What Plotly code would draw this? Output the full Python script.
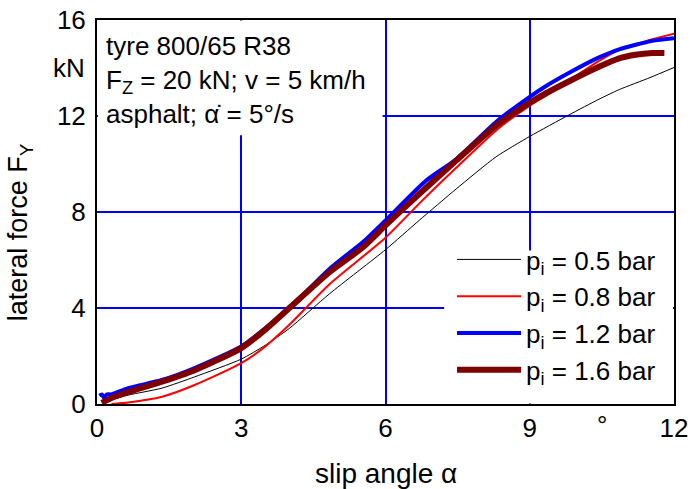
import plotly.graph_objects as go

# slip angle (deg) / lateral force (kN)
a_05 = [0.1, 0.65, 1.35, 2.03, 3.0, 3.5, 4.0, 4.84, 6.0, 6.7, 7.47, 8.3, 9.0, 9.82, 10.44, 10.86, 11.5, 12.0]
f_05 = [0.05, 0.37, 0.66, 1.13, 1.87, 2.45, 3.15, 4.6, 6.43, 7.65, 8.96, 10.3, 11.15, 12.05, 12.7, 13.1, 13.6, 14.02]

a_08 = [0.3, 0.65, 1.35, 2.03, 3.0, 3.5, 4.0, 4.84, 6.0, 6.7, 7.47, 8.3, 9.0, 9.34, 10.44, 10.86, 11.55, 12.0]
f_08 = [0.0, 0.06, 0.3, 0.79, 1.70, 2.4, 3.3, 5.0, 6.93, 8.35, 9.84, 11.4, 12.43, 12.85, 14.3, 14.75, 15.2, 15.43]

a_12 = [0.05, 0.1, 0.15, 0.2, 0.3, 0.65, 1.35, 2.03, 3.0, 3.5, 4.0, 4.84, 5.53, 6.0, 6.84, 7.47, 8.3, 9.0, 9.34, 9.82, 10.44, 10.86, 11.55, 12.0]
f_12 = [0.35, 0.4, 0.25, 0.4, 0.4, 0.66, 1.0, 1.5, 2.4, 3.15, 4.0, 5.64, 6.75, 7.65, 9.3, 10.2, 11.75, 12.8, 13.25, 13.8, 14.44, 14.78, 15.13, 15.24]

a_16 = [0.1, 0.3, 0.65, 1.35, 2.03, 3.0, 3.5, 4.0, 4.84, 5.53, 6.0, 6.7, 7.47, 8.3, 9.0, 9.34, 9.82, 10.44, 10.86, 11.2, 11.55, 11.8]
f_16 = [0.05, 0.25, 0.5, 0.93, 1.41, 2.33, 3.1, 4.0, 5.5, 6.53, 7.44, 8.75, 10.14, 11.6, 12.55, 12.95, 13.45, 14.05, 14.4, 14.55, 14.62, 14.62]

series_names = ["p<sub>i</sub> = 0.5 bar", "p<sub>i</sub> = 0.8 bar", "p<sub>i</sub> = 1.2 bar", "p<sub>i</sub> = 1.6 bar"]
x_ticks = [0, 3, 6, 9, 12]
y_ticks = [0, 4, 8, 12, 16]
info_lines = ["tyre 800/65 R38", "F<sub>Z</sub> = 20 kN; v = 5 km/h", "asphalt; α\u0307 = 5°/s"]
x_title = "slip angle α"
y_title = "lateral force F<sub>Y</sub>"

FONT = "Liberation Sans, Arial, sans-serif"
FS = 26
GRID = "#0000ff"

fig = go.Figure()
styles = [("black", 1), ("#ff0000", 2), ("#0000ff", 4), ("#7f0000", 6)]
for (xs, ys), name, (col, w) in zip([(a_05, f_05), (a_08, f_08), (a_12, f_12), (a_16, f_16)], series_names, styles):
    fig.add_trace(go.Scatter(x=xs, y=ys, mode="lines", name=name,
                             line=dict(color=col, width=w, shape="spline", smoothing=0.6)))

fig.update_layout(
    width=693, height=489,
    margin=dict(l=97, r=19, t=20, b=85),
    paper_bgcolor="white", plot_bgcolor="white",
    font=dict(family=FONT, size=FS, color="black"),
    showlegend=True,
    hovermode=False,
    legend=dict(x=0.9775, y=0.026, xanchor="right", yanchor="bottom", bgcolor="rgba(0,0,0,0)",
                borderwidth=0, font=dict(size=FS), tracegroupgap=0,
                itemwidth=64),
    xaxis=dict(range=[0, 12], tickvals=x_ticks, showgrid=True, gridcolor=GRID, gridwidth=2,
               zeroline=False, showline=True, linecolor="black", linewidth=2, mirror=True,
               ticks="", automargin=False, ticklabelstandoff=0),
    yaxis=dict(range=[0, 16], tickvals=y_ticks, showgrid=True, gridcolor=GRID, gridwidth=2,
               zeroline=False, showline=True, linecolor="black", linewidth=2, mirror=True,
               ticks="", automargin=False, ticklabelstandoff=4),
)

# white boxes hiding the grid behind the text box and the legend (axis-referenced, between grid and traces)
fig.add_shape(type="rect", xref="x", yref="y", x0=0.02, x1=5.94, y0=11.2, y1=15.98,
              fillcolor="white", line_width=0, layer="between")
fig.add_shape(type="rect", xref="x", yref="y", x0=7.22, x1=11.98, y0=0.02, y1=6.4,
              fillcolor="white", line_width=0, layer="between")

fig.add_annotation(text="<br>".join(info_lines), xref="paper", yref="paper", x=0.012, y=0.977,
                   xanchor="left", yanchor="top", align="left", showarrow=False,
                   font=dict(size=FS))
# axis titles
fig.add_annotation(text=x_title, xref="paper", yref="paper", x=0.5, y=0, yshift=-52,
                   xanchor="center", yanchor="top", showarrow=False, font=dict(size=28))
fig.add_annotation(text=y_title, xref="paper", yref="paper", x=-0.133, y=0.448,
                   xanchor="center", yanchor="middle", textangle=-90, showarrow=False,
                   font=dict(size=27))
# unit labels
fig.add_annotation(text="°", x=10.5, xref="x", yref="paper", y=0, yshift=-4,
                   yanchor="top", showarrow=False, font=dict(size=FS))
fig.add_annotation(text="kN", y=14, yref="y", xref="paper", x=0, xshift=-10,
                   xanchor="right", showarrow=False, font=dict(size=FS))

fig.write_html("out.html", config={"staticPlot": True, "displayModeBar": False},
               post_script="document.body.style.margin='0px';")
